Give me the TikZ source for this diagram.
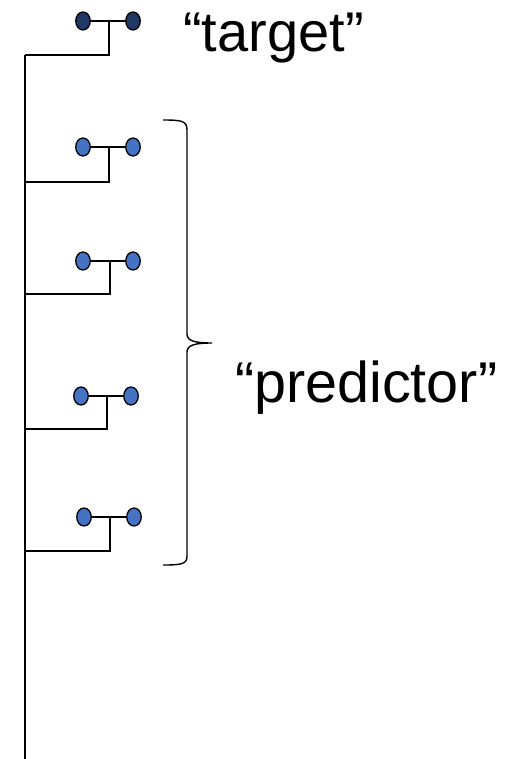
\documentclass[tikz,border=0pt]{standalone}
\usepackage{fontspec}
\setmainfont{Liberation Sans}
\usetikzlibrary{shapes.geometric}
\definecolor{darkdot}{HTML}{203864}
\definecolor{bluedot}{HTML}{4472C4}
\begin{document}
\begin{tikzpicture}[x=1pt,y=-1pt,
  dot/.style={ellipse,draw=black,line width=1.3pt,minimum width=14.5pt,minimum height=18pt,inner sep=0pt},
  tdot/.style={dot,fill=darkdot},
  pdot/.style={dot,fill=bluedot},
  conn/.style={line width=1.4pt,draw=black},
  lbl/.style={anchor=base west,inner sep=0pt}]
\useasboundingbox (0,0) rectangle (508,759);
% trunk
\coordinate (ttop) at (25,55);
\coordinate (tbot) at (25,760);
\draw[conn] (ttop) -- (tbot);
% group 1 (target)
\node[tdot] (l1) at (83,21) {};
\node[tdot] (r1) at (133,21) {};
\coordinate (j1) at (109,21);
\coordinate (b1) at (25,55);
\draw[conn] (l1) -- (r1);
\draw[conn] (j1) |- (b1);
% group 2
\node[pdot] (l2) at (83,147) {};
\node[pdot] (r2) at (133,147) {};
\coordinate (j2) at (109,147);
\coordinate (b2) at (25,182);
\draw[conn] (l2) -- (r2);
\draw[conn] (j2) |- (b2);
% group 3
\node[pdot] (l3) at (83,261) {};
\node[pdot] (r3) at (133,261) {};
\coordinate (j3) at (110,261);
\coordinate (b3) at (25,294);
\draw[conn] (l3) -- (r3);
\draw[conn] (j3) |- (b3);
% group 4
\node[pdot] (l4) at (81,396) {};
\node[pdot] (r4) at (131,396) {};
\coordinate (j4) at (107,396);
\coordinate (b4) at (24,429);
\draw[conn] (l4) -- (r4);
\draw[conn] (j4) |- (b4);
% group 5
\node[pdot] (l5) at (84,517) {};
\node[pdot] (r5) at (134,517) {};
\coordinate (j5) at (110,517);
\coordinate (b5) at (25,551);
\draw[conn] (l5) -- (r5);
\draw[conn] (j5) |- (b5);
% brace
\draw[line width=1.4pt] (163,120) .. controls (182,120) and (187,121) .. (187,130)
  -- (187,334) .. controls (187,341) and (195,343) .. (212,343)
  .. controls (195,343) and (187,345) .. (187,352)
  -- (187,556) .. controls (187,564) and (182,565) .. (163,565);
% labels
\node[lbl,font=\fontsize{56}{60}\selectfont] (target) at (183,52) {“target”};
\node[lbl,font=\fontsize{57.5}{62}\selectfont] (pred) at (235,402) {“predictor”};
\end{tikzpicture}
\end{document}
